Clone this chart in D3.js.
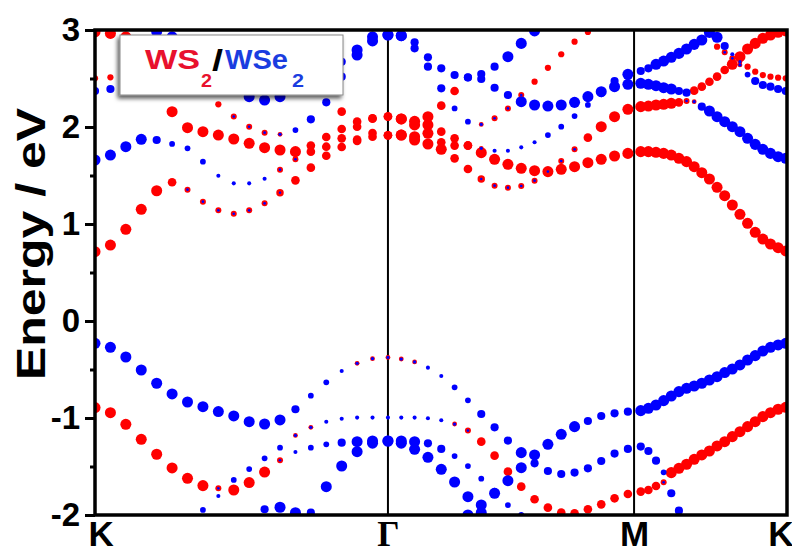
<!DOCTYPE html>
<html>
<head>
<meta charset="utf-8">
<script src="https://cdn.jsdelivr.net/npm/d3@7"></script>
<style>
  body { margin: 0; background: #fff; }
  svg { display: block; font-family: Arial, "Liberation Sans", sans-serif; }
</style>
</head>
<body>
<div id="chart"></div>
<script>
// ---- high symmetry path K - Gamma - M - K ----
var kLabels = ["K", "\u0393", "M", "K"];
var kTicks = [0, 1.270, 2.337, 3.0];

// energy ticks
var eMajor = [-2, -1, 0, 1, 2, 3];
var eMinor = [-1.5, -0.5, 0.5, 1.5, 2.5];

// projection classes: [WS2 weight, WSe2 weight]
var projClass = {
    R: [0.92, 0], r: [0.72, 0], s: [0.52, 0],
    m: [0.62, 0.2], p: [0.5, 0.22], q: [0.4, 0.27],
    B: [0, 0.92], b: [0, 0.68], c: [0, 0.48], d: [0, 0.34]
};

// k grids (evenly sampled in each segment)
var kgGrid = d3.range(20).map(function(i){ return i * 1.270 / 19; });
var gmGrid = d3.range(1, 19).map(function(j){ return 1.270 + j * 0.05779; });
var mkGrid = d3.range(20).map(function(m){ return 2.366 + m * 0.03308; });

// ---- K -> Gamma ----
var kgC1 = [2.98, 2.965, 2.93];                 var kgC1p = "RRR";
var kgC2 = [2.502, 2.512, 2.53];                var kgC2p = "sss";
var kgC3 = [2.371, 2.392, 2.42, 2.45, 2.46, 2.46, 2.45, 2.44, 2.42, 2.40,
            2.313, 2.278, 2.313, 2.40, 2.50, 2.58, 2.673, 2.794, 2.93, 2.95];
var kgC3p = "bbBBBBBBBBBBBBBBbBBB";
var kgC4 = [2.985, 2.93];                       var kgC4p = "BB";
var kgC5 = [2.42, 2.158, 1.993, 1.952, 1.917, 1.876, 1.832, 1.787, 1.763, 1.746,
            1.808, 1.897, 1.979, 2.003, 2.086, 2.106];
var kgC5p = "RRRRRRRRRRrrrrrr";
var kgC6 = [1.66, 1.711, 1.797, 1.873, 1.866, 1.825, 1.78, 1.643, 1.498, 1.419,
            1.419, 1.467, 1.56, 1.667, 1.746, 1.797, 1.883, 1.87, 1.938, 1.914];
var kgC6p = "BBBBbcccddddpprrrrrr";
var kgC7 = [0.715, 0.783, 0.945, 1.151, 1.343, 1.43, 1.354, 1.23, 1.141, 1.106,
            1.141, 1.213, 1.323, 1.45, 1.581, 1.704, 1.794, 1.856, 1.900, 1.914];
var kgC7p = "RRRRRrppppppmrrrrrrr";
var kgC8 = [2.38, 2.234, 2.107, 2.003, 1.942, 1.924, 1.969, 2.079, 2.254, 2.519,
            2.742, 2.887, 2.948];
var kgC8p = "sspppqcbbbBBB";
var kgC9 = [2.158, 2.055, 2.09, 2.11];          var kgC9p = "rrrr";
var kgV1 = [-0.230, -0.271, -0.371, -0.505, -0.642, -0.752, -0.835, -0.883, -0.934, -0.979,
            -1.038, -1.062, -1.02, -0.91, -0.77, -0.632, -0.515, -0.436, -0.388, -0.375];
var kgV1p = "BBBBBBBBBBBBBbccdqqq";
var kgV2 = [-0.893, -0.945, -1.065, -1.22, -1.374, -1.515, -1.622, -1.697, -1.725, -1.742,
            -1.666, -1.557, -1.436, -1.18, -1.096, -1.038, -1.007, -0.996, -0.996, -0.996];
var kgV2p = "RRRRRRRRpRRRpqqddddd";
var kgV3 = [-1.948, -1.804, -1.639, -1.526, -1.416, -1.306, -1.35, -1.306, -1.271, -1.254,
            -1.244, -1.237, -1.237];
var kgV3p = "cdccccdccbBBB";
var kgV4 = [-1.708, -1.495, -1.347, -1.26, -1.237];  var kgV4p = "BBBBB";
var kgV5 = [-1.941, -1.92, -1.976, -1.976];          var kgV5p = "bBBb";

// ---- Gamma -> M ----
var gmC1 = [1.917, 1.866, 1.825, 1.77, 1.677, 1.567, 1.464, 1.395, 1.375, 1.392,
            1.447, 1.54, 1.649, 1.77, 1.89, 2.003, 2.106, 2.182];
var gmC1p = "RRRRrrmppppppprRRR";
var gmC2 = [1.917, 1.90, 1.935, 1.842, 1.808, 1.808, 1.735, 1.667, 1.615, 1.574,
            1.55, 1.54, 1.564, 1.591, 1.632, 1.667, 1.701, 1.728];
var gmC2p = "RRRrrrRRRRRRRRRRRR";
var gmC3 = [2.083, 2.021, 2.021, 1.952, 1.883, 1.81, 1.78, 1.756, 1.756, 1.79,
            1.842, 1.917, 2.003, 2.113, 2.227, 2.35, 2.474, 2.543];
var gmC3p = "RRRrrrqddddccccbbB";
var gmC4 = [2.083, 2.058, 2.106, 2.22, 2.371];       var gmC4p = "RRRrr";
var gmC5 = [2.942, 2.873, 2.718, 2.605, 2.536, 2.512, 2.495, 2.405, 2.33, 2.261,
            2.227, 2.216, 2.227, 2.254, 2.313, 2.364, 2.416, 2.44];
var gmC5p = "BbbbbbbbbBBBBBBBBB";
var gmC6 = [2.942, 2.811, 2.622, 2.399, 2.192, 2.055, 2.027, 2.09, 2.192, 2.33,
            2.467, 2.61, 2.75, 2.88, 2.98];
var gmC6p = "Bbbbccqpppsssss";
var gmC7 = [2.51, 2.546, 2.622, 2.725, 2.862, 2.99]; var gmC7p = "bbbBBB";
var gmV1 = [-0.392, -0.422, -0.481, -0.567, -0.684, -0.818, -0.959, -1.096, -1.233, -1.357,
            -1.467, -1.546, -1.577, -1.563, -1.519, -1.443, -1.367, -1.319];
var gmV1p = "qqddccbbbBbbbbbbbb";
var gmV2 = [-2.0, -1.897, -1.776, -1.646, -1.512, -1.381, -1.271, -1.168, -1.089, -1.031,
            -0.979, -0.952, -0.935];
var gmV2p = "BBBBBBBBBbbbb";
var gmV3 = [-0.996, -0.996, -1.003, -1.024, -1.062, -1.13, -1.244, -1.388, -1.553, -1.708,
            -1.838, -1.924, -1.976, -1.983, -1.941, -1.89, -1.828, -1.783];
var gmV3p = "ddddqprrrrrrrrrrrr";
var gmV4 = [-1.237, -1.244, -1.261, -1.319, -1.392, -1.495, -1.625, -1.75, -1.897, -2.0];
var gmV4p = "BBbbcccccc";
var gmV5 = [-1.26, -1.323, -1.405, -1.529, -1.66, -1.811, -1.976];
var gmV5p = "BBBBBBB";

// ---- M -> K ----
var mkC1 = [1.746, 1.746, 1.739, 1.728, 1.711, 1.677, 1.643, 1.591, 1.529, 1.464,
            1.378, 1.292, 1.196, 1.1, 1.007, 0.914, 0.845, 0.794, 0.756, 0.722];
var mkC1p = "RRRRRRRRRRRRRRRRRRRR";
var mkC2 = [2.21, 2.216, 2.227, 2.234, 2.244, 2.254, 2.268, 2.375, 2.416, 2.467,
            2.519, 2.588, 2.646, 2.725, 2.804, 2.862, 2.914, 2.948, 2.976, 2.99];
var mkC2p = "RRRRRrprrrrrRRRRRRRR";
var mkC3 = [2.45, 2.44, 2.426, 2.405, 2.392, 2.371, 2.354, 2.261, 2.21, 2.165,
            2.106, 2.055, 2.003, 1.952, 1.883, 1.821, 1.77, 1.728, 1.694, 1.677];
var mkC3p = "BBBBBbbqbBBBBBBBBBBB";
var mkC4 = [2.577, 2.605, 2.646, 2.68, 2.718, 2.759, 2.804, 2.852, 2.897, 2.975];
var mkC4p = "bbBBBBBBBB";
var mkC5 = [2.925, 2.835, 2.75, 2.64, 2.54, 2.474, 2.433, 2.416, 2.392, 2.371];
var mkC5p = "Bbdqcbbbbb";
var mkC6 = [2.828, 2.77, 2.708, 2.673, 2.622, 2.57, 2.536, 2.519, 2.509, 2.502];
var mkC6p = "sppqssssss";
var mkV1 = [-0.924, -0.9, -0.866, -0.821, -0.773, -0.728, -0.694, -0.67, -0.642, -0.608,
            -0.574, -0.532, -0.495, -0.453, -0.402, -0.357, -0.309, -0.271, -0.247, -0.23];
var mkV1p = "BBBBBBBBBBBBBBBBBBBB";
var mkV2 = [-1.759, -1.742, -1.701, -1.663, -1.563, -1.519, -1.477, -1.426, -1.381, -1.34,
            -1.288, -1.244, -1.192, -1.141, -1.089, -1.038, -0.986, -0.945, -0.91, -0.89];
var mkV2p = "rrrpRRRRRRRRRRRRRRRR";
var mkV3 = [-1.295, -1.34, -1.44, -1.56, -1.776, -1.955];
var mkV3p = "bbbcbb";

// band table: [grid, first grid index, energies, projections]
var bandTable = [
    [kgGrid, 0, kgC1, kgC1p], [kgGrid, 0, kgC2, kgC2p], [kgGrid, 0, kgC3, kgC3p],
    [kgGrid, 4, kgC4, kgC4p], [kgGrid, 4, kgC5, kgC5p], [kgGrid, 0, kgC6, kgC6p],
    [kgGrid, 0, kgC7, kgC7p], [kgGrid, 7, kgC8, kgC8p], [kgGrid, 16, kgC9, kgC9p],
    [kgGrid, 0, kgV1, kgV1p], [kgGrid, 0, kgV2, kgV2p], [kgGrid, 7, kgV3, kgV3p],
    [kgGrid, 15, kgV4, kgV4p], [kgGrid, 11, kgV5, kgV5p],
    [gmGrid, 0, gmC1, gmC1p], [gmGrid, 0, gmC2, gmC2p], [gmGrid, 0, gmC3, gmC3p],
    [gmGrid, 0, gmC4, gmC4p], [gmGrid, 0, gmC5, gmC5p], [gmGrid, 0, gmC6, gmC6p],
    [gmGrid, 5, gmC7, gmC7p],
    [gmGrid, 0, gmV1, gmV1p], [gmGrid, 5, gmV2, gmV2p], [gmGrid, 0, gmV3, gmV3p],
    [gmGrid, 0, gmV4, gmV4p], [gmGrid, 0, gmV5, gmV5p],
    [mkGrid, 0, mkC1, mkC1p], [mkGrid, 0, mkC2, mkC2p], [mkGrid, 0, mkC3, mkC3p],
    [mkGrid, 0, mkC4, mkC4p], [mkGrid, 10, mkC5, mkC5p], [mkGrid, 10, mkC6, mkC6p],
    [mkGrid, 0, mkV1, mkV1p], [mkGrid, 0, mkV2, mkV2p], [mkGrid, 0, mkV3, mkV3p]
];

var points = [];
bandTable.forEach(function(b){
    b[2].forEach(function(e, t){
        var w = projClass[b[3].charAt(t)];
        points.push({k: b[0][b[1] + t], e: e, ws: w[0], wse: w[1]});
    });
});

// ---- layout ----
var width = 792, height = 553;
var margin = {top: 30, right: 5, bottom: 38, left: 95};
var innerW = width - margin.left - margin.right;
var innerH = height - margin.top - margin.bottom;

var x = d3.scaleLinear().domain([0, 3]).range([0, innerW]);
var y = d3.scaleLinear().domain([-2, 3]).range([innerH, 0]);
var rScale = d3.scaleLinear().domain([0, 1]).range([0, 6]);

var svg = d3.select("#chart").append("svg")
    .attr("width", width)
    .attr("height", height);

var defs = svg.append("defs");
defs.append("clipPath").attr("id", "plot-clip")
    .append("rect").attr("width", innerW).attr("height", innerH);
var shadow = defs.append("filter").attr("id", "legend-shadow")
    .attr("x", "-20%").attr("y", "-30%").attr("width", "140%").attr("height", "170%");
shadow.append("feDropShadow")
    .attr("dx", -2).attr("dy", 3).attr("stdDeviation", 2.2)
    .attr("flood-color", "#000").attr("flood-opacity", 0.65);

var g = svg.append("g")
    .attr("transform", "translate(" + margin.left + "," + margin.top + ")");

// vertical lines at Gamma and M
g.selectAll(".kline")
    .data(kTicks.slice(1, 3))
    .enter().append("line")
    .attr("x1", function(d){ return x(d); })
    .attr("x2", function(d){ return x(d); })
    .attr("y1", 0).attr("y2", innerH)
    .attr("stroke", "#000").attr("stroke-width", 2);

// fat band dots: WS2 (red) below, WSe2 (blue) on top
var dots = g.append("g").attr("clip-path", "url(#plot-clip)");
dots.selectAll(".ws2")
    .data(points.filter(function(d){ return d.ws > 0; }))
    .enter().append("circle")
    .attr("cx", function(d){ return x(d.k); })
    .attr("cy", function(d){ return y(d.e); })
    .attr("r", function(d){ return rScale(d.ws); })
    .attr("fill", "#ff0000");
dots.selectAll(".wse2")
    .data(points.filter(function(d){ return d.wse > 0; }))
    .enter().append("circle")
    .attr("cx", function(d){ return x(d.k); })
    .attr("cy", function(d){ return y(d.e); })
    .attr("r", function(d){ return rScale(d.wse); })
    .attr("fill", "#0000ff");

// y axis, major and minor ticks
var yAxis = g.append("g")
    .call(d3.axisLeft(y).tickValues(eMajor).tickSize(10).tickPadding(5)
        .tickFormat(function(d){ return d; }));
yAxis.select(".domain").remove();
yAxis.selectAll(".tick line").attr("stroke-width", 3);
yAxis.selectAll(".tick text")
    .attr("font-size", 33).attr("font-weight", "bold")
    .attr("font-family", "Arial, 'Liberation Sans', sans-serif")
    .attr("fill", "#000");
g.append("g")
    .call(d3.axisLeft(y).tickValues(eMinor).tickSize(5).tickFormat(""))
    .call(function(a){
        a.select(".domain").remove();
        a.selectAll(".tick line").attr("stroke-width", 3);
    });

// x axis labels
var xAxis = g.append("g")
    .attr("transform", "translate(0," + innerH + ")")
    .call(d3.axisBottom(x).tickValues(kTicks).tickSize(0).tickPadding(6)
        .tickFormat(function(d, i){ return kLabels[i]; }));
xAxis.select(".domain").remove();
xAxis.selectAll(".tick text")
    .attr("font-size", 35).attr("font-weight", "bold")
    .attr("font-family", function(d, i){ return i === 1 ? "'Liberation Serif', 'DejaVu Serif', serif" : "Arial, 'Liberation Sans', sans-serif"; })
    .attr("fill", "#000")
    .attr("text-anchor", function(d, i){ return i === 0 ? "start" : (i === 3 ? "end" : "middle"); })
    .attr("dx", function(d, i){ return i === 0 ? -7 : (i === 3 ? 6 : 0); });

// frame
g.append("rect")
    .attr("width", innerW).attr("height", innerH)
    .attr("fill", "none").attr("stroke", "#000").attr("stroke-width", 3.5);

// axis title
svg.append("text")
    .attr("transform", "translate(45,244) rotate(-90)")
    .attr("text-anchor", "middle")
    .attr("font-size", 40).attr("font-weight", "bold")
    .attr("textLength", 272).attr("lengthAdjust", "spacingAndGlyphs")
    .text("Energy / eV");

// legend
var legend = svg.append("g").attr("transform", "translate(120,35)");
legend.append("rect")
    .attr("width", 223).attr("height", 60)
    .attr("fill", "#fff").attr("stroke", "#888").attr("stroke-width", 1)
    .attr("filter", "url(#legend-shadow)");
var legendParts = [
    {t: "WS",  x: 25,  y: 34, size: 28, len: 55, fill: "#e8112d"},
    {t: "2",   x: 81,  y: 52, size: 18, len: 11, fill: "#e8112d"},
    {t: "/",   x: 92,  y: 36, size: 30, len: 11, fill: "#000"},
    {t: "WSe", x: 105, y: 34, size: 28, len: 63, fill: "#1a3de0"},
    {t: "2",   x: 172, y: 52, size: 18, len: 12, fill: "#1a3de0"}
];
legend.selectAll(".lg")
    .data(legendParts)
    .enter().append("text")
    .attr("x", function(d){ return d.x; })
    .attr("y", function(d){ return d.y; })
    .attr("font-size", function(d){ return d.size; })
    .attr("font-weight", "bold")
    .attr("fill", function(d){ return d.fill; })
    .attr("textLength", function(d){ return d.len; })
    .attr("lengthAdjust", "spacingAndGlyphs")
    .text(function(d){ return d.t; });
</script>
</body>
</html>
